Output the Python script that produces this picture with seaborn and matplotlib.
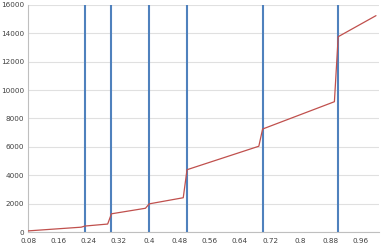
import matplotlib
matplotlib.use("Agg")
import matplotlib.pyplot as plt
import seaborn as sns
import numpy as np
import pandas as pd

# data
x_vals = [0.08, 0.22, 0.23, 0.29, 0.30, 0.39, 0.40, 0.49, 0.50, 0.69, 0.70, 0.89, 0.90, 1.00]
y_vals = [100, 360, 440, 580, 1300, 1690, 2000, 2430, 4400, 6050, 7260, 9180, 13750, 15230]
vlines = [0.23, 0.30, 0.40, 0.50, 0.70, 0.90]
x_ticks = [0.08, 0.16, 0.24, 0.32, 0.40, 0.48, 0.56, 0.64, 0.72, 0.80, 0.88, 0.96]
x_tick_labels = ["0.08", "0.16", "0.24", "0.32", "0.4", "0.48", "0.56", "0.64", "0.72", "0.8", "0.88", "0.96"]
y_ticks = [0, 2000, 4000, 6000, 8000, 10000, 12000, 14000, 16000]

sns.set_style("white")
plt.rcParams['font.family'] = ['DejaVu Sans']

fig = plt.figure(figsize=(3.85, 2.47), dpi=100)
ax = fig.add_axes([28.3/385, 1-232.3/247, (379-28.3)/385, (232.3-4.7)/247])

df = pd.DataFrame({"x": x_vals, "y": y_vals})
for v in vlines:
    ax.axvline(v, color="#4F81BD", lw=1.5, zorder=3)
sns.lineplot(data=df, x="x", y="y", ax=ax, color="#C0504D", lw=0.9, zorder=4)

ax.set_xlim(0.08, 1.008)
ax.set_ylim(0, 16000)
ax.set_yticks(y_ticks)
ax.set_yticklabels([str(t) for t in y_ticks])
ax.set_xticks(x_ticks)
ax.set_xticklabels(x_tick_labels)
ax.set_xticks(np.round(np.arange(0.08, 1.005, 0.01), 2), minor=True)
ax.grid(axis="y", color="#E0E0E0", lw=0.8)
ax.set_axisbelow(True)
ax.set_xlabel("")
ax.set_ylabel("")
for s in ["top", "right"]:
    ax.spines[s].set_visible(False)
for s in ["left", "bottom"]:
    ax.spines[s].set_color("#BFBFBF")
    ax.spines[s].set_linewidth(0.8)
ax.tick_params(axis="x", which="major", length=2.5, width=0.6, color="#BFBFBF", labelsize=5.2, labelcolor="#404040", pad=1.5)
ax.tick_params(axis="x", which="minor", length=1.5, width=0.5, color="#BFBFBF")
ax.tick_params(axis="y", length=0, labelsize=5.2, labelcolor="#404040", pad=3)

fig.savefig("out.png", dpi=100)
